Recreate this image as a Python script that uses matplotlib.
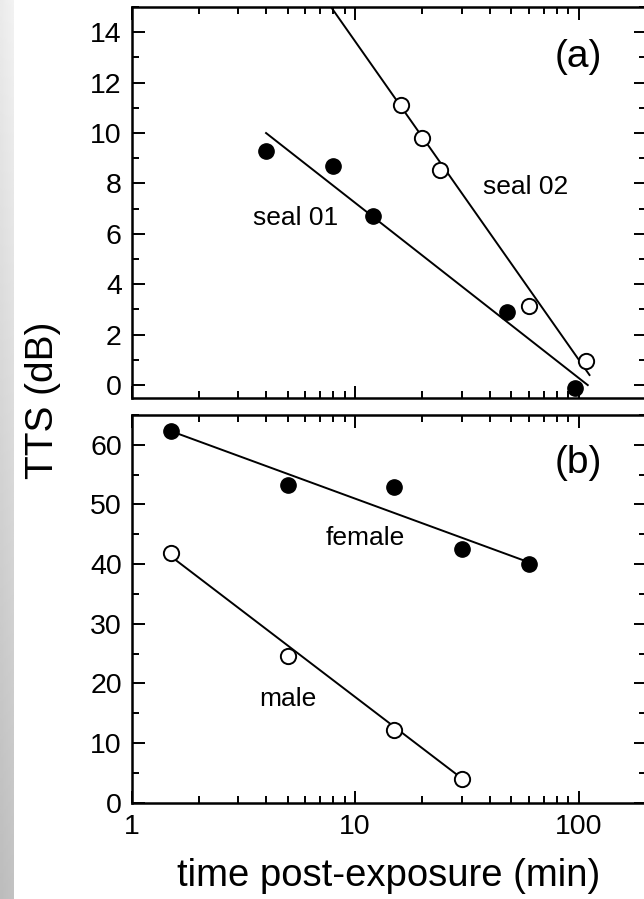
import numpy as np
import matplotlib.pyplot as plt
from matplotlib.ticker import FixedLocator, FixedFormatter, LogLocator, NullFormatter, MultipleLocator

plt.rcParams['font.family'] = ['Liberation Sans', 'DejaVu Sans']

# (a) harbor seals, TTS recovery after exposure
seal01_t = [4, 8, 12, 48, 96]
seal01_tts = [9.3, 8.7, 6.7, 2.9, -0.1]
seal01_fit_t = [4, 110]
seal01_fit_tts = [10.0, 0.0]

seal02_t = [16, 20, 24, 60, 108]
seal02_tts = [11.1, 9.8, 8.55, 3.15, 0.95]
seal02_fit_t = [7, 112]
seal02_fit_tts = [15.6, 0.4]

# (b) female / male
female_t = [1.5, 5, 15, 30, 60]
female_tts = [62.3, 53.2, 53.0, 42.6, 40.1]
female_fit_t = [1.5, 60]
female_fit_tts = [62.3, 40.3]

male_t = [1.5, 5, 15, 30]
male_tts = [41.8, 24.6, 12.2, 3.9]
male_fit_t = [1.5, 30]
male_fit_tts = [41.3, 4.1]

x_major = [1, 10, 100]
x_major_labels = ['1', '10', '100']

W, H = 644, 899
fig = plt.figure(figsize=(W / 100, H / 100), dpi=100)

# grey strip on the left edge
strip = fig.add_axes([0, 0, 14 / W, 1])
grad = np.linspace(0.95, 0.76, 256).reshape(-1, 1) * np.linspace(0.97, 1.0, 8).reshape(1, -1)
strip.imshow(grad, cmap='gray', vmin=0, vmax=1, aspect='auto')
strip.axis('off')

left = 131.5 / W
width = 514.3 / W
ax_a = fig.add_axes([left, 1 - 397.7 / H, width, 390.7 / H])
ax_b = fig.add_axes([left, 1 - 802.7 / H, width, 387.7 / H])

filled = dict(marker='o', ms=11, mfc='black', mec='black', ls='none', zorder=3)
hollow = dict(marker='o', ms=11, mfc='white', mec='black', mew=1.4, ls='none', zorder=3)
fit = dict(color='black', lw=1.4, zorder=2)

ax_a.plot(seal01_fit_t, seal01_fit_tts, **fit)
ax_a.plot(seal02_fit_t, seal02_fit_tts, **fit)
ax_a.plot(seal01_t, seal01_tts, **filled)
ax_a.plot(seal02_t, seal02_tts, **hollow)
ax_a.text(5.4, 6.63, 'seal 01', ha='center', va='center', fontsize=19)
ax_a.text(58, 7.84, 'seal 02', ha='center', va='center', fontsize=19)
ax_a.text(100, 13.0, '(a)', ha='center', va='center', fontsize=28)

ax_b.plot(female_fit_t, female_fit_tts, **fit)
ax_b.plot(male_fit_t, male_fit_tts, **fit)
ax_b.plot(female_t, female_tts, **filled)
ax_b.plot(male_t, male_tts, **hollow)
ax_b.text(11.1, 44.4, 'female', ha='center', va='center', fontsize=19)
ax_b.text(5.0, 17.4, 'male', ha='center', va='center', fontsize=19)
ax_b.text(100, 56.9, '(b)', ha='center', va='center', fontsize=28)

ax_a.set_ylim(-0.5, 15)
ax_a.yaxis.set_major_locator(MultipleLocator(2))
ax_a.yaxis.set_minor_locator(MultipleLocator(1))
ax_b.set_ylim(0, 65)
ax_b.yaxis.set_major_locator(MultipleLocator(10))
ax_b.yaxis.set_minor_locator(MultipleLocator(5))

for ax in (ax_a, ax_b):
    ax.set_xscale('log')
    ax.set_xlim(1, 200)
    ax.xaxis.set_major_locator(FixedLocator(x_major))
    ax.xaxis.set_major_formatter(FixedFormatter(x_major_labels))
    ax.xaxis.set_minor_locator(LogLocator(base=10, subs=np.arange(2, 10)))
    ax.xaxis.set_minor_formatter(NullFormatter())
    ax.tick_params(which='both', direction='in', top=True, right=True,
                   width=1.4, labelsize=20.5, pad=7)
    ax.tick_params(which='major', length=9)
    ax.tick_params(which='minor', length=5)
    for sp in ax.spines.values():
        sp.set_linewidth(1.8)

ax_a.tick_params(axis='x', labelbottom=False)
ax_b.tick_params(axis='x', pad=8)

ax_b.set_xlabel('time post-exposure (min)', fontsize=27.5, labelpad=13)
fig.text(43 / W, 1 - 400 / H, 'TTS (dB)', rotation=90, ha='center', va='center', fontsize=28)

fig.savefig('out.png', dpi=100)
